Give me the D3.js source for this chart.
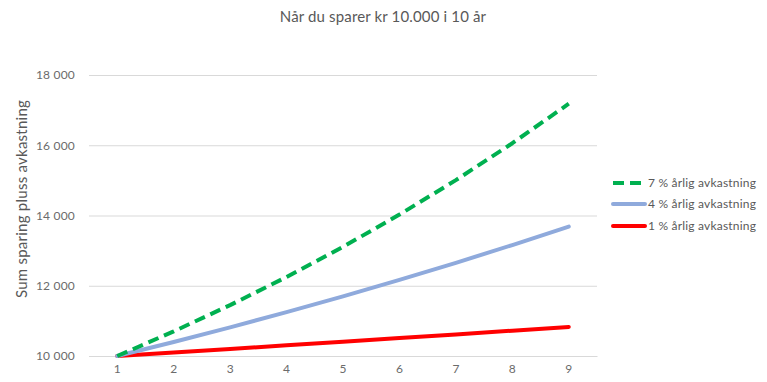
<!DOCTYPE html>
<html><head><meta charset="utf-8">
<script src="https://cdn.jsdelivr.net/npm/d3@7"></script>
<style>body{margin:0;background:#fff;}svg{display:block;font-family:Lato,"Open Sans",sans-serif;}</style>
</head><body>
<svg id="c" width="767" height="382"></svg>
<script>
const years = [1,2,3,4,5,6,7,8,9];
const r7 = [10000,10700,11449,12250,13108,14026,15007,16058,17182];
const r4 = [10000,10400,10816,11249,11699,12167,12653,13159,13686];
const r1 = [10000,10100,10201,10303,10406,10510,10615,10721,10829];
const yTicks = [10000,12000,14000,16000,18000];
const seriesNames = ["7 % årlig avkastning","4 % årlig avkastning","1 % årlig avkastning"];
const title = "Når du sparer kr 10.000 i 10 år";
const yLabel = "Sum sparing pluss avkastning";

const svg = d3.select("#c");
const x = d3.scaleBand().domain(years).range([89,597]);
const y = d3.scaleLinear().domain([10000,18000]).range([356,75]);
const fmt = v => d3.format(",")(v).replace(/,/g," ");

svg.append("text").attr("x",383).attr("y",22).attr("text-anchor","middle")
  .attr("font-size",15).attr("letter-spacing",0.15).attr("fill","#595959").text(title);

const gy = svg.append("g").attr("transform","translate(89,0)")
  .call(d3.axisLeft(y).tickValues(yTicks).tickSize(-508).tickFormat(fmt));
gy.select(".domain").remove();
gy.selectAll(".tick line").attr("stroke","#d9d9d9");
gy.selectAll(".tick text").attr("x",-14).attr("fill","#6b6b6b").attr("font-size",12)
  .attr("letter-spacing",0.2).attr("font-family","Lato");

const gx = svg.append("g").attr("transform","translate(0,356)")
  .call(d3.axisBottom(x).tickSize(0).tickFormat(d=>d));
gx.select(".domain").attr("stroke","#d9d9d9");
gx.selectAll(".tick text").attr("dy",0).attr("y",17).attr("fill","#6b6b6b").attr("font-size",12).attr("font-family","Lato");

svg.append("text").attr("transform","translate(27,199) rotate(-90)").attr("text-anchor","middle")
  .attr("font-size",15).attr("letter-spacing",0.25).attr("fill","#595959").text(yLabel);

const line = d3.line().x((d,i)=>x(years[i])+x.bandwidth()/2).y(d=>y(d));
const series = [
  {v:r7,c:"#00B050",dash:"11,6"},
  {v:r4,c:"#8FAADC",dash:null},
  {v:r1,c:"#FF0000",dash:null}
];
[2,1,0].forEach(i=>{
  const s=series[i];
  svg.append("path").attr("d",line(s.v)).attr("fill","none").attr("stroke",s.c)
    .attr("stroke-width",4).attr("stroke-linecap",s.dash?"butt":"round").attr("stroke-linejoin","round")
    .attr("stroke-dasharray",s.dash);
});

const ly=[183,204,226];
series.forEach((s,i)=>{
  svg.append("line").attr("x1",613).attr("x2",645).attr("y1",ly[i]).attr("y2",ly[i])
    .attr("stroke",s.c).attr("stroke-width",4).attr("stroke-dasharray",s.dash?"11,6":null)
    .attr("stroke-linecap",s.dash?"butt":"round");
  svg.append("text").attr("x",648).attr("y",ly[i]+4).attr("font-size",12).attr("letter-spacing",0.2)
    .attr("fill","#595959").text(seriesNames[i]);
});
</script>
</body></html>
